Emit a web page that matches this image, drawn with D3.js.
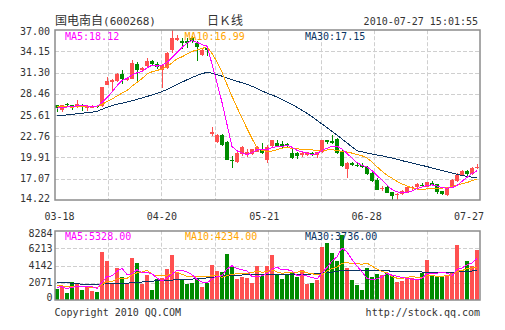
<!DOCTYPE html>
<html>
<head>
<meta charset="utf-8">
<script src="https://cdn.jsdelivr.net/npm/d3@7"></script>
<style>
  html, body { margin: 0; padding: 0; background: #fff; }
  svg { display: block; }
</style>
</head>
<body>
<svg id="chart" width="505" height="330"></svg>
<script>
// ---- header texts ----
const stockName = "国电南自";
const stockCode = "(600268)";
const chartTitle = "日Ｋ线";
const stamp = "2010-07-27 15:01:55";
const copyright = "Copyright 2010 QQ.COM";
const siteUrl = "http://stock.qq.com";

// ---- axis labels ----
const dateLabels = ["03-18", "04-20", "05-21", "06-28", "07-27"];
const priceTicks = ["37.00", "34.15", "31.30", "28.46", "25.61", "22.76", "19.91", "17.07", "14.22"];
const volTicks = ["8284", "6213", "4142", "2071", "0"];

// ---- daily bars, 2010-03-18 .. 2010-07-27 ----
const opens = [26.90,26.30,27.10,26.90,26.70,27.00,26.50,26.60,26.85,26.80,
  29.70,30.10,30.20,31.10,30.30,30.50,32.40,31.60,32.20,32.80,
  32.40,31.70,31.90,34.30,35.70,35.50,35.60,35.95,35.30,33.70,
  34.60,23.00,22.00,22.90,22.00,19.55,19.30,20.40,20.40,20.40,
  20.70,20.95,19.50,21.40,21.90,21.70,21.70,20.50,20.50,20.30,
  20.20,20.45,20.30,20.60,22.20,22.10,22.40,20.70,18.40,19.20,
  18.95,18.85,18.60,17.80,16.90,15.75,15.95,15.25,14.95,15.00,
  15.15,15.75,15.90,16.25,16.00,16.50,16.35,15.35,14.80,15.90,
  16.70,17.60,18.13,17.70,18.50];
const highs = [27.00,27.00,27.20,27.00,27.60,27.10,26.90,26.90,26.90,29.40,
  30.65,30.40,31.20,31.60,30.70,32.95,32.70,32.10,33.30,33.00,
  32.70,32.50,34.10,37.00,36.40,35.95,35.95,36.20,35.50,34.50,
  34.70,23.95,23.00,23.10,22.10,20.10,20.60,21.40,21.00,21.10,
  21.40,21.85,21.60,22.30,22.30,22.10,21.80,21.10,20.70,20.70,
  20.70,20.60,20.70,22.30,22.30,22.95,22.50,20.95,19.30,19.30,
  19.10,19.20,18.70,17.90,17.10,16.10,16.05,15.30,15.20,15.50,
  16.00,16.10,16.45,16.50,16.60,16.75,16.40,15.45,15.90,17.00,
  17.80,18.27,18.20,18.60,19.00];
const lows = [26.00,26.00,26.80,26.30,26.60,26.20,26.20,26.50,26.50,26.75,
  29.60,28.90,30.10,29.80,30.20,30.40,30.00,31.50,32.10,32.20,
  31.80,29.30,31.80,34.00,35.60,34.50,34.60,35.30,32.80,33.60,
  33.50,22.75,21.90,21.50,19.50,18.50,19.20,20.10,20.00,20.30,
  20.60,20.40,19.20,21.30,21.30,21.20,21.30,19.75,19.70,20.00,
  20.10,20.05,19.80,20.50,21.70,21.70,20.40,18.60,17.20,18.70,
  18.60,18.50,17.60,16.60,15.50,15.35,15.10,14.22,14.25,14.90,
  15.10,15.45,15.85,15.90,15.95,16.10,15.05,14.80,14.75,15.85,
  16.60,17.40,17.45,17.60,18.30];
const closes = [26.60,26.90,26.95,26.65,27.10,26.70,26.70,26.75,26.73,29.40,
  30.20,30.30,31.10,30.40,30.60,32.60,31.70,31.90,32.90,32.40,
  32.00,32.30,33.90,35.90,36.00,35.30,35.30,35.50,34.80,34.40,
  34.30,23.30,22.90,21.60,19.60,19.45,20.50,21.30,20.60,21.00,
  21.30,20.50,21.30,22.20,21.40,21.50,21.40,19.90,20.10,20.50,
  20.60,20.35,20.60,22.20,21.95,21.85,20.50,18.70,19.20,18.95,
  18.70,18.65,17.70,16.70,15.60,15.85,15.15,14.70,15.05,15.45,
  15.90,15.90,16.35,16.05,16.55,16.25,15.27,15.04,15.84,16.90,
  17.60,18.13,17.69,18.50,18.68];
const volumes = [1477,1819,963,2354,2108,1348,1733,1220,1102,6163,
  4976,2108,4141,2996,2194,5404,4772,2108,3210,1348,
  2739,2868,4013,5821,3499,2739,2022,2194,2868,1733,
  2236,4558,3670,3585,5906,4344,2664,2996,2868,2236,
  4344,3082,4430,5821,3371,2664,3296,3424,2996,3799,
  2022,2236,2568,6752,7340,6078,4976,8284,4055,2536,
  1905,1305,4141,2996,3296,3210,3424,3082,2322,2450,
  2739,2868,2536,3499,5190,3082,2996,2922,3100,3600,
  7094,3799,5000,4347,6400];

// sessions just before the first bar, used to start the short averages
const leadCloses = [26.90,26.80,27.00,26.70,26.80,26.60,26.50,26.60,26.40];
const leadVolumes = [2200,2400,1900,1800,2300,1600,2100,1500,1700];

// 30-day averages (their window reaches further back than the bars shown)
const ma30 = [25.48,25.55,25.62,25.70,25.78,25.85,25.92,26.00,26.10,26.38,
  26.66,26.86,27.06,27.20,27.34,27.52,27.72,27.90,28.10,28.30,
  28.52,28.76,29.04,29.36,29.70,30.02,30.34,30.64,30.92,31.16,
  31.34,31.22,31.04,30.83,30.58,30.34,30.13,29.95,29.75,29.47,
  29.17,28.85,28.55,28.30,28.02,27.70,27.38,27.02,26.64,26.24,
  25.84,25.40,24.90,24.40,23.90,23.42,22.92,22.38,21.86,21.33,
  20.82,20.66,20.50,20.36,20.24,20.12,19.98,19.82,19.66,19.48,
  19.32,19.16,19.00,18.84,18.68,18.50,18.32,18.14,17.98,17.82,
  17.64,17.50,17.37,17.25,17.15];
const volMa30 = [2320,2300,2240,2180,2120,2050,2020,2010,2020,2060,
  2100,2110,2130,2150,2180,2230,2290,2330,2380,2440,
  2480,2500,2530,2580,2610,2640,2660,2700,2750,2790,
  2850,2920,3010,3070,3120,3160,3190,3220,3240,3260,
  3270,3280,3290,3300,3300,3300,3300,3300,3300,3310,
  3320,3360,3400,3470,3530,3590,3680,3800,3830,3830,
  3830,3830,3820,3800,3780,3760,3740,3720,3720,3720,
  3720,3720,3710,3600,3580,3560,3540,3540,3550,3560,
  3620,3700,3720,3730,3736];

// ---- style ----
const colUp = "#ff5050", colDown = "#008c00";
const colMa5 = "#ff00ff", colMa10 = "#ffa500", colMa30 = "#0b3563";
const colGrid = "#cfcfcf", colFrame = "#8c8c8c", colText = "#333";
const mono = "'DejaVu Sans Mono', 'Liberation Mono', monospace";
const cjk = "'Noto Sans CJK SC', 'Noto Sans', sans-serif";

const n = closes.length;
const panel = { left: 55, right: 480.5 };
const pricePanel = { top: 30.2, bottom: 199.8 };
const volPanel = { top: 230.7, bottom: 300.3 };
const volHeadroom = 1.07;

function movingAverage(values, lead, len) {
  const all = lead.concat(values);
  return values.map((_, i) => {
    const end = i + lead.length;
    return d3.mean(all.slice(end - len + 1, end + 1));
  });
}
const ma5 = movingAverage(closes, leadCloses, 5);
const ma10 = movingAverage(closes, leadCloses, 10);
const volMa5 = movingAverage(volumes, leadVolumes, 5);
const volMa10 = movingAverage(volumes, leadVolumes, 10);

const svg = d3.select("#chart");

// ---- scales ----
const x = d3.scaleBand().domain(d3.range(n))
  .range([55, 480]).paddingInner(0.2).paddingOuter(0.1).align(0);
const bw = x.bandwidth();
const cx = i => x(i) + bw / 2;

const y = d3.scaleLinear().domain([+priceTicks[priceTicks.length - 1], +priceTicks[0]])
  .range([pricePanel.bottom, pricePanel.top]);
const yv = d3.scaleLinear().domain([0, (+volTicks[0]) * volHeadroom])
  .range([volPanel.bottom, volPanel.top]);
const volGridY = d3.scaleLinear().domain([0, volTicks.length - 1])
  .range([volPanel.top, volPanel.bottom]);
const colX = d3.scaleLinear().domain([0, 8]).range([panel.left, panel.right]);
const dateX = d3.scalePoint().domain(dateLabels).range([59.5, 469]);

// ---- grids ----
function grid(g, top, bottom, rows) {
  g.selectAll("line.v").data(d3.range(1, 8)).join("line")
    .attr("x1", d => Math.round(colX(d)) + 0.5).attr("x2", d => Math.round(colX(d)) + 0.5)
    .attr("y1", top).attr("y2", bottom)
    .attr("stroke", colGrid).attr("stroke-dasharray", "4,2");
  g.selectAll("line.h").data(rows).join("line").attr("class", "h")
    .attr("x1", panel.left).attr("x2", panel.right)
    .attr("y1", d => Math.round(d) + 0.5).attr("y2", d => Math.round(d) + 0.5)
    .attr("stroke", colGrid).attr("stroke-dasharray", "4,2");
}
grid(svg.append("g"), pricePanel.top, pricePanel.bottom,
  priceTicks.slice(1, -1).map(t => y(+t)));
grid(svg.append("g"), volPanel.top, volPanel.bottom,
  volTicks.slice(1, -1).map((t, k) => volGridY(k + 1)));

// ---- candles ----
const candles = svg.append("g").attr("shape-rendering", "crispEdges");
const idx = d3.range(n);
const isUp = i => closes[i] >= opens[i];
candles.selectAll("rect.wick").data(idx).join("rect").attr("class", "wick")
  .attr("x", i => x(i) + Math.floor(bw / 2)).attr("width", 1)
  .attr("y", i => y(highs[i])).attr("height", i => Math.max(1, y(lows[i]) - y(highs[i])))
  .attr("fill", i => isUp(i) ? colUp : colDown);
candles.selectAll("rect.body").data(idx).join("rect").attr("class", "body")
  .attr("x", i => x(i)).attr("width", bw)
  .attr("y", i => y(Math.max(opens[i], closes[i])))
  .attr("height", i => Math.max(1, Math.abs(y(opens[i]) - y(closes[i]))))
  .attr("fill", i => isUp(i) ? colUp : colDown);

// ---- price averages ----
const priceLine = d3.line().x((d, i) => cx(i)).y(d => y(d));
[[ma30, colMa30], [ma10, colMa10], [ma5, colMa5]].forEach(([s, c]) => {
  svg.append("path").datum(s).attr("d", priceLine)
    .attr("fill", "none").attr("stroke", c).attr("stroke-width", 1)
    .attr("shape-rendering", "crispEdges");
});

// ---- volume bars ----
svg.append("g").attr("shape-rendering", "crispEdges")
  .selectAll("rect").data(idx).join("rect")
  .attr("x", i => x(i)).attr("width", bw)
  .attr("y", i => yv(volumes[i])).attr("height", i => volPanel.bottom - yv(volumes[i]))
  .attr("fill", i => isUp(i) ? colUp : colDown);

const volLine = d3.line().x((d, i) => cx(i)).y(d => yv(d));
[[volMa30, colMa30], [volMa10, colMa10], [volMa5, colMa5]].forEach(([s, c]) => {
  svg.append("path").datum(s).attr("d", volLine)
    .attr("fill", "none").attr("stroke", c).attr("stroke-width", 1)
    .attr("shape-rendering", "crispEdges");
});

// ---- frames ----
[pricePanel, volPanel].forEach(p => {
  svg.append("rect").attr("x", 55).attr("y", Math.round(p.top))
    .attr("width", 425).attr("height", Math.round(p.bottom) - Math.round(p.top))
    .attr("fill", "none").attr("stroke", colFrame).attr("stroke-width", 1.5);
});

// ---- texts ----
function txt(xp, yp, s, opts = {}) {
  return svg.append("text").attr("x", xp).attr("y", yp).text(s)
    .attr("font-family", opts.font || mono).attr("font-size", opts.size || 10)
    .attr("fill", opts.fill || colText).attr("text-anchor", opts.anchor || "start")
    .attr("dominant-baseline", opts.base || "auto");
}

// header
const head = svg.append("text").attr("x", 55).attr("y", 25).attr("fill", colText);
head.append("tspan").text(stockName).attr("font-family", cjk).attr("font-size", 12);
head.append("tspan").text(stockCode).attr("font-family", mono).attr("font-size", 11);
txt(225, 25, chartTitle, { font: cjk, size: 12, anchor: "middle" });
txt(478, 25, stamp, { anchor: "end" });

// price axis
priceTicks.forEach((t, k) => {
  let yy = y(+t);
  if (k === 0) yy += 1; if (k === priceTicks.length - 1) yy -= 1;
  txt(50, yy, t, { anchor: "end", base: "central" });
});
// volume axis
volTicks.forEach((t, k) => {
  let yy = volGridY(k);
  if (k === 0) yy += 2.6; if (k === volTicks.length - 1) yy -= 3;
  txt(52.5, yy, t, { anchor: "end", base: "central" });
});
// dates
dateLabels.forEach(d => txt(dateX(d), 220, d, { anchor: "middle" }));

// legends
const last = a => a[a.length - 1];
txt(65, 39.5, "MA5:" + last(ma5).toFixed(2), { fill: colMa5 });
txt(184.5, 39.5, "MA10:" + last(ma10).toFixed(2), { fill: colMa10 });
txt(305, 39.5, "MA30:" + last(ma30).toFixed(2), { fill: colMa30 });
txt(65, 240, "MA5:" + last(volMa5).toFixed(2), { fill: colMa5 });
txt(185, 240, "MA10:" + last(volMa10).toFixed(2), { fill: colMa10 });
txt(305, 240, "MA30:" + last(volMa30).toFixed(2), { fill: colMa30 });

// footer
txt(54.5, 315.5, copyright);
txt(480, 315.5, siteUrl, { anchor: "end" });
</script>
</body>
</html>
